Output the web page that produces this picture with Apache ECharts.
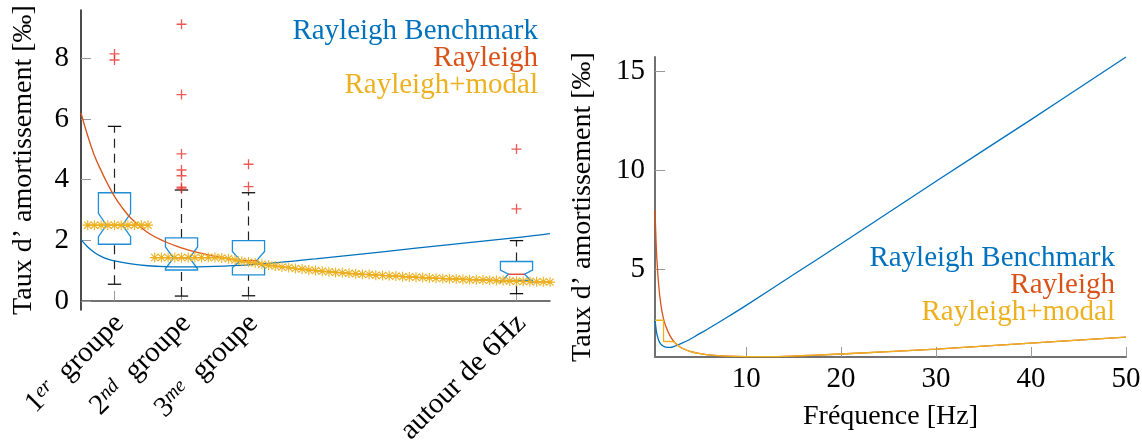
<!DOCTYPE html>
<html><head><meta charset="utf-8">
<script src="https://cdn.jsdelivr.net/npm/echarts@6/dist/echarts.min.js"></script>
<style>html,body{margin:0;padding:0;background:#fff}#c{width:1142px;height:442px}</style>
</head><body><div id="c"></div>
<script>
// ---------- Left chart: box plots per group ----------
const groupLabels = ['{n|1}{s|er}  groupe', '{n|2}{s|nd}  groupe', '{n|3}{s|me}  groupe', 'autour de 6Hz'];
const groupPos = [1, 2, 3, 7];
const whiskerLow = [0.55, 0.16, 0.17, 0.24];
const q1 = [1.87, 1.02, 0.86, 0.68];
const median = [2.50, 1.42, 1.33, 0.88];
const q3 = [3.57, 2.08, 1.99, 1.30];
const whiskerHigh = [5.76, 3.66, 3.57, 1.99];
const notchLow = [2.12, 1.06, 1.10, 0.62];
const notchHigh = [2.89, 1.78, 1.63, 1.02];
const outlierX = [1, 1, 2, 2, 2, 2, 2, 2, 2, 3, 3, 7, 7];
const outlierY = [8.15, 7.95, 9.13, 6.81, 4.85, 4.32, 4.13, 3.75, 3.70, 4.51, 3.77, 5.01, 3.04];

// Left chart curves
const leftBenchX = [0.5, 0.6, 0.7, 0.8, 0.9, 1.0, 1.25, 1.5, 1.75, 2.0, 2.5, 3.0, 3.5, 4.0, 5.0, 6.0, 7.0, 7.5];
const leftBenchY = [2.02, 1.78, 1.60, 1.47, 1.38, 1.32, 1.22, 1.16, 1.13, 1.12, 1.14, 1.19, 1.28, 1.39, 1.62, 1.86, 2.09, 2.22];
const leftRayX = [0.5, 0.6, 0.7, 0.8, 0.9, 1.0, 1.1, 1.25, 1.5, 1.75, 2.0, 2.25, 2.5, 2.75, 3.0, 3.5, 4.0, 4.5, 5.0, 5.5, 6.0, 6.5, 7.0, 7.5];
const leftRayY = [6.20, 5.45, 4.80, 4.30, 3.85, 3.45, 3.12, 2.72, 2.25, 1.96, 1.75, 1.59, 1.47, 1.37, 1.28, 1.12, 1.00, 0.91, 0.84, 0.78, 0.73, 0.69, 0.65, 0.62];
const modalX1 = [0.6, 0.7, 0.8, 0.9, 1.0, 1.1, 1.2, 1.3, 1.4, 1.5];
const modalY1 = [2.5, 2.5, 2.5, 2.5, 2.5, 2.5, 2.5, 2.5, 2.5, 2.5];
const modalX2 = [1.6, 1.7, 1.8, 1.9, 2.0, 2.1, 2.2, 2.3, 2.4, 2.5, 2.6, 2.7, 2.8, 2.9, 3.0, 3.1, 3.2, 3.3, 3.4, 3.5,
  3.6, 3.7, 3.8, 3.9, 4.0, 4.1, 4.2, 4.3, 4.4, 4.5, 4.6, 4.7, 4.8, 4.9, 5.0, 5.1, 5.2, 5.3, 5.4, 5.5,
  5.6, 5.7, 5.8, 5.9, 6.0, 6.1, 6.2, 6.3, 6.4, 6.5, 6.6, 6.7, 6.8, 6.9, 7.0, 7.1, 7.2, 7.3, 7.4, 7.5];
const modalY2 = [1.43, 1.43, 1.43, 1.43, 1.43, 1.43, 1.43, 1.43, 1.43, 1.43, 1.42, 1.39, 1.35, 1.31, 1.28, 1.25, 1.21, 1.18, 1.15, 1.12,
  1.10, 1.07, 1.05, 1.02, 1.00, 0.98, 0.96, 0.94, 0.93, 0.91, 0.90, 0.88, 0.87, 0.85, 0.84, 0.83, 0.82, 0.80, 0.79, 0.78,
  0.77, 0.76, 0.75, 0.74, 0.73, 0.72, 0.71, 0.70, 0.70, 0.69, 0.68, 0.67, 0.67, 0.66, 0.65, 0.64, 0.64, 0.63, 0.63, 0.62];
const leftYTicks = [0, 2, 4, 6, 8];

// ---------- Right chart: damping vs frequency ----------
const freqBench = [0.4, 0.5, 0.6, 0.8, 1.0, 1.25, 1.5, 2.0, 2.5, 3.0, 4.0, 5.0, 6.0, 8.0, 10, 15, 20, 30, 40, 50];
const bench = [2.50, 2.05, 1.75, 1.42, 1.26, 1.15, 1.10, 1.08, 1.15, 1.25, 1.47, 1.75, 2.02, 2.60, 3.20, 4.75, 6.30, 9.45, 12.55, 15.70];
const freqRay = [0.4, 0.5, 0.6, 0.8, 1.0, 1.25, 1.5, 2.0, 2.5, 3.0, 3.5, 4.0, 5.0, 6.0, 8.0, 10, 12, 15, 20, 30, 40, 50];
const rayleigh = [8.0, 6.6, 5.5, 4.15, 3.3, 2.62, 2.2, 1.65, 1.32, 1.12, 0.99, 0.90, 0.78, 0.71, 0.64, 0.62, 0.62, 0.65, 0.75, 1.00, 1.30, 1.60];
const freqModalStep = [0.4, 1.3, 1.3, 2.37];
const modalStep = [2.45, 2.45, 1.38, 1.38];
const freqModalTail = [2.37, 2.5, 3.0, 3.5, 4.0, 5.0, 6.0, 8.0, 10, 12, 15, 20, 30, 40, 50];
const modalTail = [1.38, 1.32, 1.12, 0.99, 0.90, 0.78, 0.71, 0.64, 0.62, 0.62, 0.65, 0.75, 1.00, 1.30, 1.60];
const rightXTicks = [10, 20, 30, 40, 50];
const rightYTicks = [5, 10, 15];

const C_BLUE = '#0072BD', C_RED = '#D95319', C_YEL = '#EDB120';
const FONT = 'Liberation Serif';
const zip = (a, b) => a.map((v, i) => [v, b[i]]);

const boxData = groupPos.map((p, i) => [p, whiskerLow[i], q1[i], median[i], q3[i], whiskerHigh[i], notchLow[i], notchHigh[i]]);

function renderBox(params, api) {
  const x = api.value(0);
  const lo = api.value(1), b = api.value(2), m = api.value(3), t = api.value(4), hi = api.value(5);
  const nL = api.value(6), nH = api.value(7);
  const P = (xx, yy) => api.coord([xx, yy]);
  const hw = 0.24, nw = 0.12, cw = 0.1;
  const pts = [P(x - hw, t), P(x - hw, nH), P(x - nw, m), P(x - hw, nL), P(x - hw, b),
    P(x + hw, b), P(x + hw, nL), P(x + nw, m), P(x + hw, nH), P(x + hw, t)];
  const dash = { stroke: '#222', lineWidth: 1.2, lineDash: [9, 6] };
  const solid = { stroke: '#111', lineWidth: 1.3 };
  const seg = (a, c, st) => ({ type: 'line', shape: { x1: a[0], y1: a[1], x2: c[0], y2: c[1] }, style: st });
  return {
    type: 'group', children: [
      seg(P(x, t), P(x, hi), dash),
      seg(P(x, lo), P(x, b), dash),
      seg(P(x - cw, hi), P(x + cw, hi), solid),
      seg(P(x - cw, lo), P(x + cw, lo), solid),
      { type: 'polygon', shape: { points: pts }, style: { fill: 'none', stroke: '#1f8ed6', lineWidth: 1.3 } },
      seg(P(x - nw, m), P(x + nw, m), { stroke: '#e8302a', lineWidth: 1.3 })
    ]
  };
}

const asterisk = 'path://M5,0L5,10M0,5L10,5M1.4,1.4L8.6,8.6M1.4,8.6L8.6,1.4';
const plus = 'path://M5,0L5,10M0,5L10,5';
const YNAME = 'Taux d’ amortissement [‰]';

const chart = echarts.init(document.getElementById('c'), null, { renderer: 'canvas' });
chart.setOption({
  backgroundColor: '#fff',
  animation: false,
  textStyle: { fontFamily: FONT },
  grid: [
    { left: 81, top: 10, width: 469, height: 300, containLabel: false, outerBoundsMode: 'none' },
    { left: 655, top: 57, width: 471, height: 300, containLabel: false, outerBoundsMode: 'none' }
  ],
  xAxis: [
    {
      gridIndex: 0, type: 'value', min: 0.5, max: 7.5,
      axisLine: { lineStyle: { color: '#444', width: 1.5 } },
      axisTick: { inside: true, length: 10, customValues: groupPos, lineStyle: { color: '#999' } },
      axisLabel: {
        customValues: groupPos, rotate: 45, margin: 4, padding: [14, 0, 0, 0],
        formatter: v => groupLabels[groupPos.indexOf(v)] || '',
        color: '#000', fontFamily: FONT, fontSize: 29,
        rich: {
          n: { fontFamily: FONT, fontSize: 29, color: '#000' },
          s: { fontFamily: FONT, fontSize: 20, fontStyle: 'italic', color: '#000', verticalAlign: 'top' }
        }
      },
      splitLine: { show: false }
    },
    {
      gridIndex: 1, type: 'value', min: 0.4, max: 50,
      name: 'Fréquence [Hz]', nameLocation: 'middle', nameGap: 46,
      nameTextStyle: { fontFamily: FONT, fontSize: 28, color: '#000' },
      axisLine: { lineStyle: { color: '#707070', width: 2 } },
      axisTick: { inside: true, length: 10, customValues: rightXTicks, lineStyle: { color: '#999' } },
      axisLabel: { customValues: rightXTicks, margin: 8, color: '#000', fontFamily: FONT, fontSize: 29 },
      splitLine: { show: false }
    }
  ],
  yAxis: [
    {
      gridIndex: 0, type: 'value', min: -0.3, max: 9.6,
      name: YNAME, nameLocation: 'middle', nameGap: 43, nameRotate: 90,
      nameTextStyle: { fontFamily: FONT, fontSize: 28, color: '#000' },
      axisLine: { lineStyle: { color: '#111', width: 1.5 } },
      axisTick: { inside: true, length: 10, customValues: leftYTicks, lineStyle: { color: '#999' } },
      axisLabel: { customValues: leftYTicks, margin: 12, color: '#000', fontFamily: FONT, fontSize: 29 },
      splitLine: { show: false }
    },
    {
      gridIndex: 1, type: 'value', min: 0.6, max: 15.7,
      name: YNAME, nameLocation: 'middle', nameGap: 58, nameRotate: 90,
      nameTextStyle: { fontFamily: FONT, fontSize: 28, color: '#000' },
      axisLine: { lineStyle: { color: '#707070', width: 2 } },
      axisTick: { inside: true, length: 10, customValues: rightYTicks, lineStyle: { color: '#999' } },
      axisLabel: { customValues: rightYTicks, margin: 10, color: '#000', fontFamily: FONT, fontSize: 29 },
      splitLine: { show: false }
    }
  ],
  series: [
    { type: 'custom', xAxisIndex: 0, yAxisIndex: 0, renderItem: renderBox, data: boxData, z: 2,
      encode: { x: 0, y: [1, 2, 3, 4, 5] } },
    { type: 'scatter', xAxisIndex: 0, yAxisIndex: 0, data: zip(outlierX, outlierY), symbol: plus, symbolSize: 10,
      itemStyle: { color: 'rgba(0,0,0,0)', borderColor: '#e8302a', borderWidth: 1.3 }, z: 3 },
    { type: 'line', xAxisIndex: 0, yAxisIndex: 0, data: zip(leftBenchX, leftBenchY), smooth: 0.4, showSymbol: false,
      lineStyle: { color: C_BLUE, width: 1.3 }, z: 4 },
    { type: 'line', xAxisIndex: 0, yAxisIndex: 0, data: zip(leftRayX, leftRayY), smooth: 0.4, showSymbol: false,
      lineStyle: { color: C_RED, width: 1.3 }, z: 5 },
    { type: 'line', xAxisIndex: 0, yAxisIndex: 0, data: zip(modalX1, modalY1), symbol: asterisk, symbolSize: 10,
      showAllSymbol: true, clip: false, lineStyle: { color: C_YEL, width: 1.2 },
      itemStyle: { color: 'rgba(0,0,0,0)', borderColor: C_YEL, borderWidth: 1.1 }, z: 6 },
    { type: 'line', xAxisIndex: 0, yAxisIndex: 0, data: zip(modalX2, modalY2), symbol: asterisk, symbolSize: 10,
      showAllSymbol: true, clip: false, lineStyle: { color: C_YEL, width: 1.2 },
      itemStyle: { color: 'rgba(0,0,0,0)', borderColor: C_YEL, borderWidth: 1.1 }, z: 6 },

    { type: 'line', xAxisIndex: 1, yAxisIndex: 1, data: zip(freqBench, bench), smooth: 0.4, showSymbol: false,
      lineStyle: { color: C_BLUE, width: 1.3 }, z: 4 },
    { type: 'line', xAxisIndex: 1, yAxisIndex: 1, data: zip(freqRay, rayleigh), smooth: 0.4, showSymbol: false,
      lineStyle: { color: C_RED, width: 1.3 }, z: 5 },
    { type: 'line', xAxisIndex: 1, yAxisIndex: 1, data: zip(freqModalStep, modalStep), showSymbol: false,
      lineStyle: { color: C_YEL, width: 1.3 }, z: 6 },
    { type: 'line', xAxisIndex: 1, yAxisIndex: 1, data: zip(freqModalTail, modalTail), smooth: 0.4, showSymbol: false,
      lineStyle: { color: C_YEL, width: 1.3 }, z: 6 }
  ],
  graphic: [
    { type: 'text', right: 1142 - 538, top: 17, style: { text: 'Rayleigh Benchmark', fill: C_BLUE, font: '29px "Liberation Serif"' } },
    { type: 'text', right: 1142 - 538, top: 44, style: { text: 'Rayleigh', fill: C_RED, font: '29px "Liberation Serif"' } },
    { type: 'text', right: 1142 - 538, top: 71, style: { text: 'Rayleigh+modal', fill: C_YEL, font: '29px "Liberation Serif"' } },
    { type: 'text', right: 1142 - 1115, top: 244, style: { text: 'Rayleigh Benchmark', fill: C_BLUE, font: '29px "Liberation Serif"' } },
    { type: 'text', right: 1142 - 1115, top: 271, style: { text: 'Rayleigh', fill: C_RED, font: '29px "Liberation Serif"' } },
    { type: 'text', right: 1142 - 1115, top: 298, style: { text: 'Rayleigh+modal', fill: C_YEL, font: '29px "Liberation Serif"' } }
  ]
});
</script>
</body></html>
